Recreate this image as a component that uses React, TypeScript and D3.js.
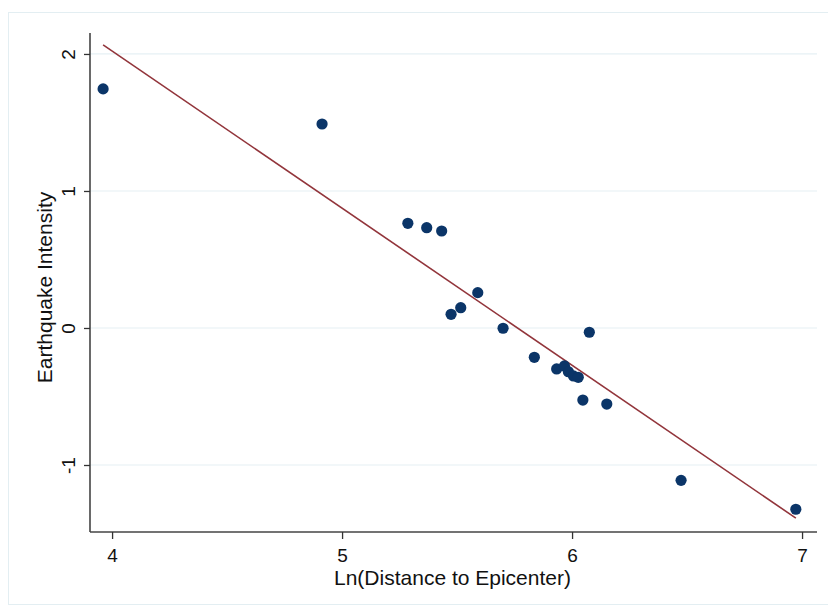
import React, { useEffect, useRef } from "react";
import * as d3 from "d3";

const lnDistance = [
  3.961, 4.913, 5.286, 5.368, 5.433, 5.59, 5.474, 5.516, 5.7, 5.836, 6.075,
  5.933, 5.967, 5.984, 6.006, 6.027, 6.047, 6.151, 6.474, 6.973,
];
const intensity = [
  1.745, 1.489, 0.764, 0.732, 0.708, 0.258, 0.1, 0.148, -0.002, -0.214,
  -0.031, -0.299, -0.277, -0.319, -0.35, -0.36, -0.526, -0.555, -1.112,
  -1.323,
];
const fitLine = { intercept: 6.607, slope: -1.1465 };
const xTicks = [4, 5, 6, 7];
const yTicks = [-1, 0, 1, 2];

export default function App() {
  const ref = useRef<SVGSVGElement>(null);

  useEffect(() => {
    const W = 828,
      H = 609;
    const margin = { top: 33, right: 11, bottom: 77, left: 90 };
    const svg = d3.select(ref.current);
    svg.selectAll("*").remove();

    const font = "'Liberation Sans', Arial, sans-serif";

    // outer frame
    svg
      .append("rect")
      .attr("x", 8.5)
      .attr("y", 12.5)
      .attr("width", W)
      .attr("height", 592)
      .attr("fill", "white")
      .attr("stroke", "#e3eef2")
      .attr("stroke-width", 1);

    const x = d3
      .scaleLinear()
      .domain([3.904, 7.065])
      .range([margin.left, W - margin.right]);
    const y = d3
      .scaleLinear()
      .domain([-1.489, 2.153])
      .range([H - margin.bottom, margin.top]);

    // gridlines
    svg
      .append("g")
      .selectAll("line")
      .data(yTicks)
      .enter()
      .append("line")
      .attr("x1", margin.left)
      .attr("x2", W - margin.right)
      .attr("y1", (d) => y(d))
      .attr("y2", (d) => y(d))
      .attr("stroke", "#e6f0f4")
      .attr("stroke-width", 1.2);

    // y axis
    const yAxis = svg
      .append("g")
      .attr("transform", "translate(" + margin.left + ",0)")
      .call(d3.axisLeft(y).tickValues(yTicks).tickSize(6).tickFormat((d) => String(d)));
    yAxis.select(".domain").attr("stroke", "#444").attr("stroke-width", 1.6).attr("d", "M0," + y.range()[1] + "V" + y.range()[0]);
    yAxis.selectAll(".tick line").attr("stroke", "#333").attr("stroke-width", 1.3);
    yAxis
      .selectAll(".tick text")
      .attr("x", null)
      .attr("dy", null)
      .attr("transform", "translate(-15,0) rotate(-90)")
      .attr("text-anchor", "middle")
      .attr("fill", "#111")
      .style("font-family", font)
      .style("font-size", "19px");

    // x axis
    const xAxis = svg
      .append("g")
      .attr("transform", "translate(0," + (H - margin.bottom) + ")")
      .call(d3.axisBottom(x).tickValues(xTicks).tickSize(7).tickFormat((d) => String(d)));
    xAxis.select(".domain").attr("stroke", "#444").attr("stroke-width", 1.6).attr("d", "M" + x.range()[0] + ",0H" + x.range()[1]);
    xAxis.selectAll(".tick line").attr("stroke", "#333").attr("stroke-width", 1.3);
    xAxis
      .selectAll(".tick text")
      .attr("y", 30)
      .attr("dy", null)
      .attr("fill", "#111")
      .style("font-family", font)
      .style("font-size", "19px");

    // axis titles
    svg
      .append("text")
      .attr("text-anchor", "middle")
      .attr("x", (margin.left + W - margin.right) / 2 - 1)
      .attr("y", 585)
      .style("font-family", font)
      .style("font-size", "21px")
      .attr("fill", "#111")
      .text("Ln(Distance to Epicenter)");

    svg
      .append("text")
      .attr("text-anchor", "middle")
      .attr("transform", "translate(52," + ((margin.top + H - margin.bottom) / 2 + 5) + ") rotate(-90)")
      .style("font-family", font)
      .style("font-size", "21px")
      .attr("fill", "#111")
      .text("Earthquake Intensity");

    // fitted line
    const ext = d3.extent(lnDistance) as [number, number];
    svg
      .append("line")
      .attr("x1", x(ext[0]))
      .attr("y1", y(fitLine.intercept + fitLine.slope * ext[0]))
      .attr("x2", x(ext[1]))
      .attr("y2", y(fitLine.intercept + fitLine.slope * ext[1]))
      .attr("stroke", "#92353b")
      .attr("stroke-width", 1.6);

    // points
    svg
      .append("g")
      .selectAll("circle")
      .data(lnDistance)
      .enter()
      .append("circle")
      .attr("cx", (d) => x(d))
      .attr("cy", (d, i) => y(intensity[i]))
      .attr("r", 5.6)
      .attr("fill", "#0b3568");
  }, []);

  return (
    <svg
      ref={ref}
      width={828}
      height={609}
      style={{ position: "absolute", left: 0, top: 0, background: "white" }}
    />
  );
}
